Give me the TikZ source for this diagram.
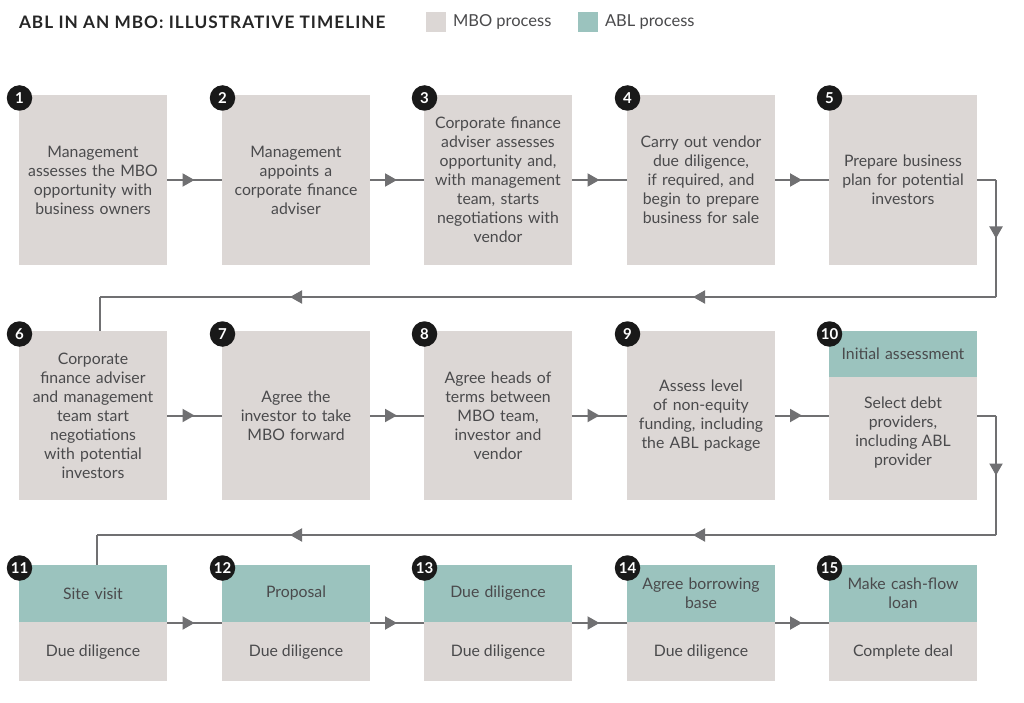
\documentclass[tikz,border=0pt]{standalone}
\usepackage{fontspec}
\setmainfont{Lato}
\usetikzlibrary{arrows.meta,decorations.markings,calc}
\definecolor{boxgrey}{HTML}{DCD7D5}
\definecolor{ablteal}{HTML}{9BC3BE}
\definecolor{linegrey}{HTML}{707072}
\definecolor{txtgrey}{HTML}{4A4A4C}
\begin{document}
\begin{tikzpicture}[x=1pt,y=-1pt,
  every node/.style={inner sep=0pt,outer sep=0pt},
  txt/.style={text=txtgrey,font=\fontsize{15.8}{19}\selectfont,align=center},
  mbo/.style={txt,fill=boxgrey,minimum width=148pt,text width=144pt},
  abl/.style={txt,fill=ablteal,minimum width=148pt,text width=144pt},
  num/.style={circle,fill=black!90,text=white,minimum size=25.5pt,font=\fontsize{15}{15}\selectfont\bfseries},
  ln/.style={draw=linegrey,line width=2pt},
  midarrow/.style={ln,postaction={decorate},decoration={markings,mark=at position 0.5 with {\arrow[linegrey]{Triangle[length=12pt,width=13pt]}}}},
  arrowat/.style={decoration={markings,mark=at position #1 with {\arrow[linegrey]{Triangle[length=12pt,width=13pt]}}}}
]
\useasboundingbox (0,0) rectangle (1024,703);
\fill[white] (0,0) rectangle (1024,703);
% title and legend
\node[anchor=west,text=black!85,font=\fontsize{17.2}{17.2}\selectfont\bfseries\addfontfeature{LetterSpace=6}] (title) at (19,22) {ABL IN AN MBO: ILLUSTRATIVE TIMELINE};
\node[fill=boxgrey,minimum size=20pt] (lg1) at (436,22) {};
\node[txt,anchor=west,font=\fontsize{16.5}{19}\selectfont] (lt1) at (453,22) {MBO process};
\node[fill=ablteal,minimum size=20pt] (lg2) at (587.5,22) {};
\node[txt,anchor=west,font=\fontsize{16.5}{19}\selectfont] (lt2) at (605,22) {ABL process};
% row 1
\node[mbo,minimum height=170pt] (b1) at (93,180) {Management\\assesses the MBO\\opportunity with\\business owners};
\node[mbo,minimum height=170pt] (b2) at (296,180) {Management\\appoints a\\corporate finance\\adviser};
\node[mbo,minimum height=170pt] (b3) at (498,180) {Corporate finance\\adviser assesses\\opportunity and,\\with management\\team, starts\\negotiations with\\vendor};
\node[mbo,minimum height=170pt] (b4) at (701,180) {Carry out vendor\\due diligence,\\if required, and\\begin to prepare\\business for sale};
\node[mbo,minimum height=170pt] (b5) at (903,180) {Prepare business\\plan for potential\\investors};
% row 2
\node[mbo,minimum height=169pt] (b6) at (93,415.5) {Corporate\\finance adviser\\and management\\team start\\negotiations\\with potential\\investors};
\node[mbo,minimum height=169pt] (b7) at (296,415.5) {Agree the\\investor to take\\MBO forward};
\node[mbo,minimum height=169pt] (b8) at (498,415.5) {Agree heads of\\terms between\\MBO team,\\investor and\\vendor};
\node[mbo,minimum height=169pt] (b9) at (701,415.5) {Assess level\\of non-equity\\funding, including\\the ABL package};
\node[mbo,minimum height=169pt] (b10) at (903,415.5) {};
\node[abl,minimum height=46pt,anchor=north] (t10) at (b10.north) {Initial assessment};
\node[txt] (d10) at (903,433) {Select debt\\providers,\\including ABL\\provider};
% row 3
\foreach \i/\x/\top/\bot in {11/93/Site visit/Due diligence,12/296/Proposal/Due diligence,13/498/Due diligence/Due diligence,14/701/Agree borrowing\\base/Due diligence,15/903/Make cash-flow\\loan/Complete deal}{
  \node[mbo,minimum height=116pt] (b\i) at (\x,623) {};
  \node[abl,minimum height=57pt,anchor=north] (t\i) at (b\i.north) {\top};
  \node[txt] (d\i) at (\x,652) {\bot};
}
% number circles
\foreach \i in {1,...,15}{
  \node[num] (n\i) at ($(b\i.north west)+(0.5,3)$) {\i};
}
% horizontal connectors
\foreach \a/\b in {1/2,2/3,3/4,4/5,6/7,7/8,8/9,9/10,11/12,12/13,13/14,14/15}{
  \draw[midarrow] (b\a.east) -- (b\b.west);
}
% row changes
\coordinate (c1) at (996,180);
\coordinate (c2) at (996,297);
\coordinate (c3) at (100,297);
\draw[ln] (b5.east) -- (c1);
\draw[midarrow] (c1) -- (c2);
\draw[ln,postaction={decorate},arrowat=303pt] (c2) -- (c3);
\draw[ln,postaction={decorate},arrowat=706pt] (c2) -- (c3);
\draw[ln] (c3) -- (c3 |- b6.north);
\coordinate (e1) at (996,415.5);
\coordinate (e2) at (996,535);
\coordinate (e3) at (97,535);
\draw[ln] (b10.east) -- (e1);
\draw[ln,postaction={decorate},arrowat=60pt] (e1) -- (e2);
\draw[ln,postaction={decorate},arrowat=303pt] (e2) -- (e3);
\draw[ln,postaction={decorate},arrowat=706pt] (e2) -- (e3);
\draw[ln] (e3) -- (e3 |- b11.north);
\end{tikzpicture}
\end{document}
